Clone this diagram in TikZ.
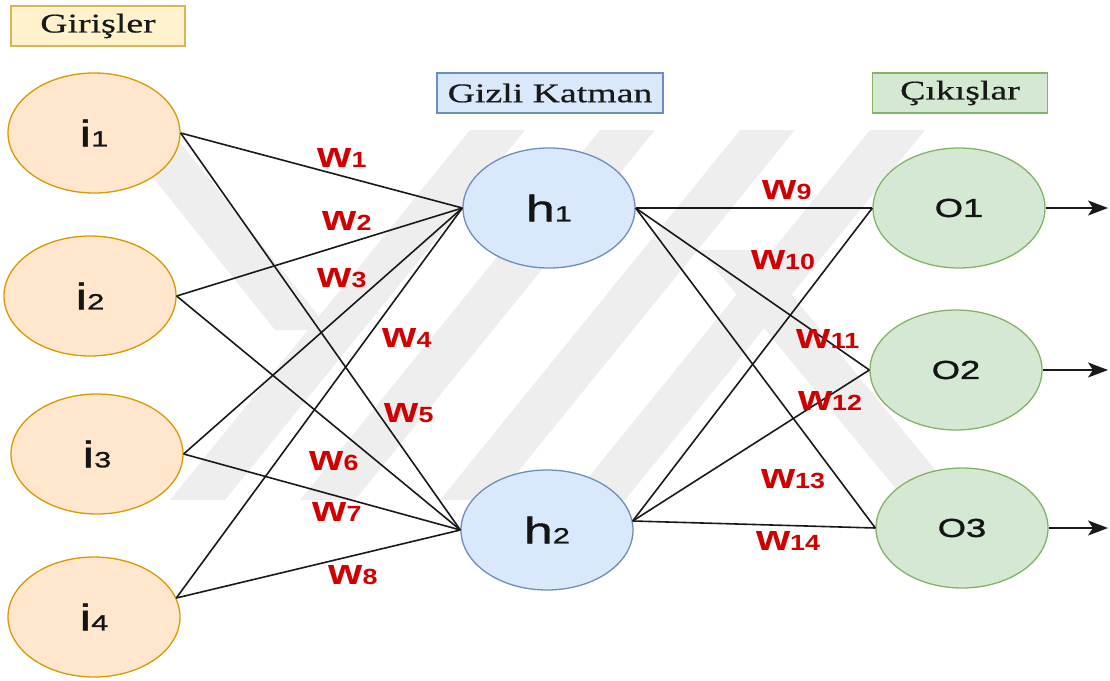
\documentclass[tikz,border=0pt]{standalone}
\usepackage{fontspec}
\usetikzlibrary{shapes.geometric,arrows.meta}

\newfontfamily\lblfont[FakeStretch=1.4,FakeBold=1.2]{Liberation Sans}
\newfontfamily\wfont[FakeStretch=1.22]{Liberation Sans Bold}
\newfontfamily\hdrfont[FakeStretch=1.4,FakeBold=0.6]{Liberation Serif}

\definecolor{inFill}{HTML}{FFE6CC}
\definecolor{inLine}{HTML}{D79B00}
\definecolor{hidFill}{HTML}{DAE8FC}
\definecolor{hidLine}{HTML}{6C8EBF}
\definecolor{outFill}{HTML}{D5E8D4}
\definecolor{outLine}{HTML}{82B366}
\definecolor{hdrFill}{HTML}{FFF2CC}
\definecolor{hdrLine}{HTML}{D6B656}
\definecolor{wred}{HTML}{D00000}
\definecolor{wmark}{HTML}{EEEEEE}

% neuron caption: letter followed by a smaller index
\newcommand\ncap[2]{{\fontsize{37}{40}\selectfont #1}{\fontsize{22}{24}\selectfont #2}}
% weight label
\newcommand\wl[1]{w{\fontsize{22}{24}\selectfont #1}}

\tikzset{
  neuron/.style={ellipse, minimum width=172pt, minimum height=120pt,
    inner sep=0pt, line width=1.3pt, font=\lblfont, text=black!92},
  header/.style={rectangle, minimum height=40pt, inner sep=0pt,
    line width=1.3pt, text=black!90, font=\hdrfont\fontsize{27}{30}\selectfont},
  link/.style={line width=1.6pt, black!90},
  wlabel/.style={text=wred, inner sep=0pt,
    font=\wfont\fontsize{36}{38}\selectfont},
  outarrow/.style={link, -{Stealth[length=20pt, width=15pt, inset=5pt]}},
}

\begin{document}
\begin{tikzpicture}[x=1pt, y=-1pt]
\useasboundingbox (0,0) rectangle (1110,680);

% striped background emblem
\begin{scope}
  \fill[wmark] (170,500) -- (225,500) -- (525,130) -- (470,130) -- cycle;
  \fill[wmark] (300,500) -- (355,500) -- (655,130) -- (600,130) -- cycle;
  \fill[wmark] (440,500) -- (495,500) -- (795,130) -- (740,130) -- cycle;
  \fill[wmark] (570,500) -- (625,500) -- (925,130) -- (870,130) -- cycle;
  \fill[wmark] (115,130) -- (170,130) -- (330,330) -- (275,330) -- cycle;
  \fill[wmark] (700,250) -- (755,250) -- (960,500) -- (905,500) -- cycle;
\end{scope}

% layer headers
\node[header, fill=hdrFill, draw=hdrLine, minimum width=174pt] (hIn)  at (98,26)  {Girişler};
\node[header, fill=hidFill, draw=hidLine, minimum width=226pt] (hHid) at (550,93) {Gizli Katman};
\node[header, fill=outFill, draw=outLine, minimum width=175pt] (hOut) at (960,93) {Çıkışlar};

% input layer
\node[neuron, fill=inFill, draw=inLine] (i1) at (94,133) {\ncap{i}{1}};
\node[neuron, fill=inFill, draw=inLine] (i2) at (90,296) {\ncap{i}{2}};
\node[neuron, fill=inFill, draw=inLine] (i3) at (97,454) {\ncap{i}{3}};
\node[neuron, fill=inFill, draw=inLine] (i4) at (94,617) {\ncap{i}{4}};

% hidden layer
\node[neuron, fill=hidFill, draw=hidLine] (h1) at (549,208) {\ncap{h}{1}};
\node[neuron, fill=hidFill, draw=hidLine] (h2) at (547,530) {\ncap{h}{2}};

% output layer
\node[neuron, fill=outFill, draw=outLine, font=\lblfont\fontsize{26}{28}\selectfont] (o1) at (959,208) {O1};
\node[neuron, fill=outFill, draw=outLine, font=\lblfont\fontsize{26}{28}\selectfont] (o2) at (956,370) {O2};
\node[neuron, fill=outFill, draw=outLine, font=\lblfont\fontsize{26}{28}\selectfont] (o3) at (962,528) {O3};

% input -> hidden
\draw[link] (i1.east) -- (h1.west);
\draw[link] (i1.east) -- (h2.west);
\draw[link] (i2.east) -- (h1.west);
\draw[link] (i2.east) -- (h2.west);
\draw[link] (i3.east) -- (h1.west);
\draw[link] (i3.east) -- (h2.west);
\draw[link] (i4.13) -- (h1.west);
\draw[link] (i4.13) -- (h2.west);

% hidden -> output
\draw[link] (h1.east) -- (o1.west);
\draw[link] (h1.east) -- (o2.west);
\draw[link] (h1.east) -- (o3.west);
\draw[link] (h2.6) -- (o1.west);
\draw[link] (h2.6) -- (o2.west);
\draw[link] (h2.6) -- (o3.west);

% outputs
\coordinate (y1) at (1108,208);
\coordinate (y2) at (1108,370);
\coordinate (y3) at (1108,528);
\draw[outarrow] (o1.east) -- (y1);
\draw[outarrow] (o2.east) -- (y2);
\draw[outarrow] (o3.east) -- (y3);

% weights
\node[wlabel] (w1)  at (342,158) {\wl{1}};
\node[wlabel] (w2)  at (347,221) {\wl{2}};
\node[wlabel] (w3)  at (342,278) {\wl{3}};
\node[wlabel] (w4)  at (407,338) {\wl{4}};
\node[wlabel] (w5)  at (409,413) {\wl{5}};
\node[wlabel] (w6)  at (334,461) {\wl{6}};
\node[wlabel] (w7)  at (337,512) {\wl{7}};
\node[wlabel] (w8)  at (353,575) {\wl{8}};
\node[wlabel] (w9)  at (787,190) {\wl{9}};
\node[wlabel] (w10) at (783,260) {\wl{10}};
\node[wlabel] (w11) at (828,339) {\wl{11}};
\node[wlabel] (w12) at (830,401) {\wl{12}};
\node[wlabel] (w13) at (793,479) {\wl{13}};
\node[wlabel] (w14) at (788,541) {\wl{14}};
\end{tikzpicture}
\end{document}
